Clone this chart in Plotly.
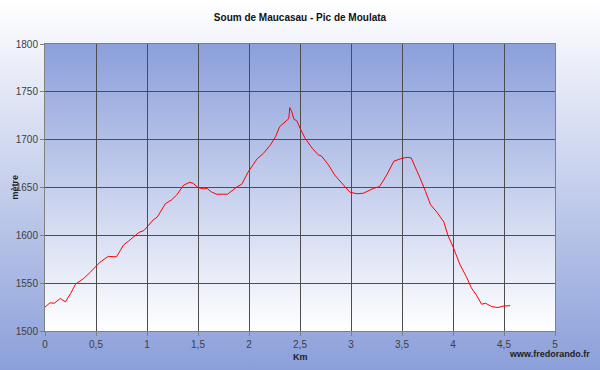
import base64
import plotly.graph_objects as go

# ---- data ----
distance_km = [0, 0.05, 0.09, 0.15, 0.20, 0.25, 0.30, 0.38, 0.44, 0.49, 0.54, 0.62, 0.70, 0.74,
               0.77, 0.82, 0.92, 0.97, 1.00, 1.06, 1.10, 1.18, 1.24, 1.29, 1.36, 1.42, 1.45,
               1.50, 1.55, 1.59, 1.63, 1.68, 1.79, 1.88, 1.93, 1.99, 2.08, 2.14, 2.21, 2.26,
               2.30, 2.37, 2.39, 2.40, 2.42, 2.44, 2.47, 2.50, 2.55, 2.62, 2.68, 2.71, 2.78,
               2.84, 2.91, 2.99, 3.06, 3.12, 3.22, 3.28, 3.35, 3.42, 3.50, 3.55, 3.59, 3.63,
               3.68, 3.73, 3.78, 3.84, 3.91, 3.95, 4.00, 4.07, 4.13, 4.18, 4.23, 4.28, 4.32,
               4.38, 4.44, 4.49, 4.54, 4.56]
altitude_m = [1525, 1529.5, 1529, 1534, 1530.5, 1539, 1549, 1555, 1561, 1566.5, 1572, 1578, 1577.5,
              1584.5, 1590, 1594, 1603, 1605, 1609, 1616, 1619, 1633, 1637, 1642, 1652.5, 1655.5,
              1654.5, 1650, 1648.5, 1649, 1645.5, 1643, 1643, 1650.5, 1653.5, 1666, 1680, 1685.5,
              1694.5, 1703, 1713.5, 1719.5, 1722, 1733.5, 1729, 1721.5, 1719.5, 1712, 1701.5,
              1691, 1684, 1683, 1673.5, 1663, 1654.5, 1645, 1643.5, 1644, 1649, 1651, 1663,
              1677.5, 1680.5, 1681.5, 1681, 1672, 1659, 1646, 1632, 1624.5, 1614, 1600, 1588,
              1569, 1557, 1545, 1537.5, 1528, 1529, 1525.5, 1524.5, 1526, 1526, 1526.5]
x_tick_vals = [0, 0.5, 1, 1.5, 2, 2.5, 3, 3.5, 4, 4.5, 5]
x_tick_text = ["0", "0,5", "1", "1,5", "2", "2,5", "3", "3,5", "4", "4,5", "5"]
y_tick_vals = [1500, 1550, 1600, 1650, 1700, 1750, 1800]

BLUE = "#8b9fda"
FONT = "Liberation Sans, Arial, sans-serif"


def gradient_uri(top, bottom):
    svg = ('<svg xmlns="http://www.w3.org/2000/svg" width="10" height="100" viewBox="0 0 10 100" '
           'preserveAspectRatio="none"><defs><linearGradient id="g" x1="0" y1="0" x2="0" y2="1">'
           f'<stop offset="0" stop-color="{top}"/><stop offset="1" stop-color="{bottom}"/>'
           '</linearGradient></defs><rect width="10" height="100" fill="url(#g)"/></svg>')
    return "data:image/svg+xml;base64," + base64.b64encode(svg.encode()).decode()


W, H = 600, 370
ML, MR, MT, MB = 45, 45, 44, 39
PW, PH = W - ML - MR, H - MT - MB

fig = go.Figure()
fig.add_trace(go.Scatter(x=distance_km, y=altitude_m, mode="lines",
                         line=dict(color="#ff0000", width=1), hoverinfo="x+y"))

axis_common = dict(showgrid=True, gridcolor="#4d4d4d", gridwidth=1, zeroline=False,
                   showline=True, linecolor="#808080", linewidth=1, mirror=True,
                   ticks="outside", ticklen=4, tickcolor="#808080", automargin=False)

fig.update_layout(
    width=W, height=H,
    margin=dict(l=ML, r=MR, t=MT, b=MB, autoexpand=False),
    paper_bgcolor="white",
    plot_bgcolor="rgba(0,0,0,0)",
    showlegend=False,
    title=dict(text="<b>Soum de Maucasau - Pic de Moulata</b>", x=0.5, xanchor="center",
               y=1 - 17 / H, yanchor="middle", font=dict(family=FONT, size=10, color="#111")),
    font=dict(family=FONT, size=10, color="#404040"),
    images=[
        dict(source=gradient_uri("#ffffff", BLUE), xref="paper", yref="paper",
             x=-ML / PW, y=1 + MT / PH, sizex=W / PW, sizey=H / PH,
             xanchor="left", yanchor="top", sizing="stretch", layer="below"),
        dict(source=gradient_uri(BLUE, "#ffffff"), xref="paper", yref="paper",
             x=0, y=1, sizex=1, sizey=1,
             xanchor="left", yanchor="top", sizing="stretch", layer="below"),
    ],
    xaxis=dict(range=[0, 5], tickvals=x_tick_vals, ticktext=x_tick_text, **axis_common),
    yaxis=dict(range=[1500, 1800], tickvals=y_tick_vals, **axis_common),
    annotations=[
        dict(text="<b>Km</b>", xref="paper", yref="paper", x=0.5, y=-26 / PH,
             xanchor="center", yanchor="middle", showarrow=False,
             font=dict(size=9, color="#222")),
        dict(text="<b>mètre</b>", xref="paper", yref="paper", x=-31 / PW, y=0.5,
             xanchor="center", yanchor="middle", showarrow=False, textangle=-90,
             font=dict(size=9, color="#222")),
        dict(text="<b>www.fredorando.fr</b>", xref="paper", yref="paper",
             x=1 + 37 / PW, y=-23 / PH, xanchor="right", yanchor="middle",
             showarrow=False, font=dict(size=9, color="#222")),
    ],
)

fig.write_html("out.html", config={"displayModeBar": False},
               post_script="document.body.style.margin='0';document.body.style.overflow='hidden';")
